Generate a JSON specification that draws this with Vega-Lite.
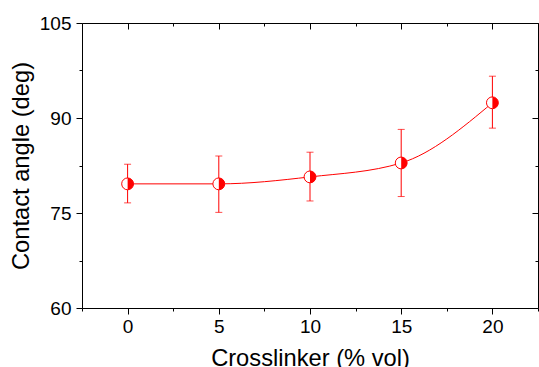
{
  "$schema": "https://vega.github.io/schema/vega-lite/v6.json",
  "width": 456,
  "height": 285,
  "autosize": {"type": "none"},
  "padding": {"left": 82, "top": 23, "right": 1, "bottom": 59},
  "background": "white",
  "config": {
    "view": {"stroke": null},
    "font": "Liberation Sans",
    "axis": {
      "grid": false,
      "domainColor": "black",
      "domainWidth": 1,
      "tickColor": "black",
      "tickWidth": 1,
      "labelColor": "black",
      "labelFont": "Liberation Sans",
      "labelFontSize": 19,
      "labelOverlap": false,
      "labelFlush": false,
      "titleColor": "black",
      "titleFont": "Liberation Sans",
      "titleFontSize": 23.7,
      "titleFontWeight": "normal"
    }
  },
  "data": {
    "values": [
      {"x": 0, "y": 79.6, "lo": 76.6, "hi": 82.7},
      {"x": 5, "y": 79.6, "lo": 75.1, "hi": 84.0},
      {"x": 10, "y": 80.7, "lo": 76.9, "hi": 84.6},
      {"x": 15, "y": 82.9, "lo": 77.6, "hi": 88.2},
      {"x": 20, "y": 92.4, "lo": 88.4, "hi": 96.6}
    ]
  },
  "layer": [
    {
      "mark": {"type": "rule", "color": "#ff0000", "strokeWidth": 1},
      "encoding": {
        "x": {
          "field": "x", "type": "quantitative",
          "scale": {"domain": [-2.5, 22.5], "nice": false, "zero": false},
          "axis": {
            "orient": "bottom",
            "values": [-2.5, 0, 2.5, 5, 7.5, 10, 12.5, 15, 17.5, 20, 22.5],
            "title": "Crosslinker (% vol)",
            "tickSize": {"condition": {"test": "datum.value % 5 === 0", "value": 6}, "value": 3},
            "labelExpr": "datum.value % 5 === 0 ? datum.label : ''",
            "labelPadding": 3,
            "titleY": 57,
            "titleBaseline": "alphabetic"
          }
        },
        "y": {
          "field": "lo", "type": "quantitative",
          "scale": {"domain": [60, 105], "nice": false, "zero": false},
          "axis": {
            "orient": "left",
            "values": [60, 67.5, 75, 82.5, 90, 97.5, 105],
            "title": "Contact angle (deg)",
            "tickSize": {"condition": {"test": "datum.value % 15 === 0", "value": 6}, "value": 3},
            "labelExpr": "datum.value % 15 === 0 ? datum.label : ''",
            "labelPadding": 5,
            "titleX": -53.6,
            "titleBaseline": "alphabetic"
          }
        },
        "y2": {"field": "hi"}
      }
    },
    {
      "mark": {"type": "tick", "orient": "horizontal", "color": "#ff0000", "size": 7, "thickness": 1},
      "encoding": {
        "x": {"field": "x", "type": "quantitative", "axis": null},
        "y": {"field": "lo", "type": "quantitative", "axis": null}
      }
    },
    {
      "mark": {"type": "tick", "orient": "horizontal", "color": "#ff0000", "size": 7, "thickness": 1},
      "encoding": {
        "x": {"field": "x", "type": "quantitative", "axis": null},
        "y": {"field": "hi", "type": "quantitative", "axis": null}
      }
    },
    {
      "mark": {"type": "line", "color": "#ff0000", "strokeWidth": 1, "interpolate": "monotone"},
      "encoding": {
        "x": {
          "field": "x", "type": "quantitative",
          "axis": {
            "orient": "top",
            "values": [-2.5, 0, 2.5, 5, 7.5, 10, 12.5, 15, 17.5, 20, 22.5],
            "title": null,
            "labels": false,
            "tickSize": {"condition": {"test": "datum.value % 5 === 0", "value": -6}, "value": -3}
          }
        },
        "y": {
          "field": "y", "type": "quantitative",
          "axis": {
            "orient": "right",
            "values": [60, 67.5, 75, 82.5, 90, 97.5, 105],
            "title": null,
            "labels": false,
            "tickSize": {"condition": {"test": "datum.value % 15 === 0", "value": -6}, "value": -3}
          }
        }
      }
    },
    {
      "mark": {"type": "point", "shape": "circle", "filled": false, "fill": "white", "fillOpacity": 1, "stroke": "#ff0000", "strokeWidth": 1, "size": 140, "opacity": 1},
      "encoding": {
        "x": {"field": "x", "type": "quantitative", "axis": null},
        "y": {"field": "y", "type": "quantitative", "axis": null}
      }
    },
    {
      "mark": {"type": "point", "shape": "M0,-1 A1,1 0 0,1 0,1 Z", "filled": true, "color": "#ff0000", "size": 140, "opacity": 1, "strokeWidth": 0},
      "encoding": {
        "x": {"field": "x", "type": "quantitative", "axis": null},
        "y": {"field": "y", "type": "quantitative", "axis": null}
      }
    }
  ],
  "resolve": {"axis": {"x": "independent", "y": "independent"}}
}
